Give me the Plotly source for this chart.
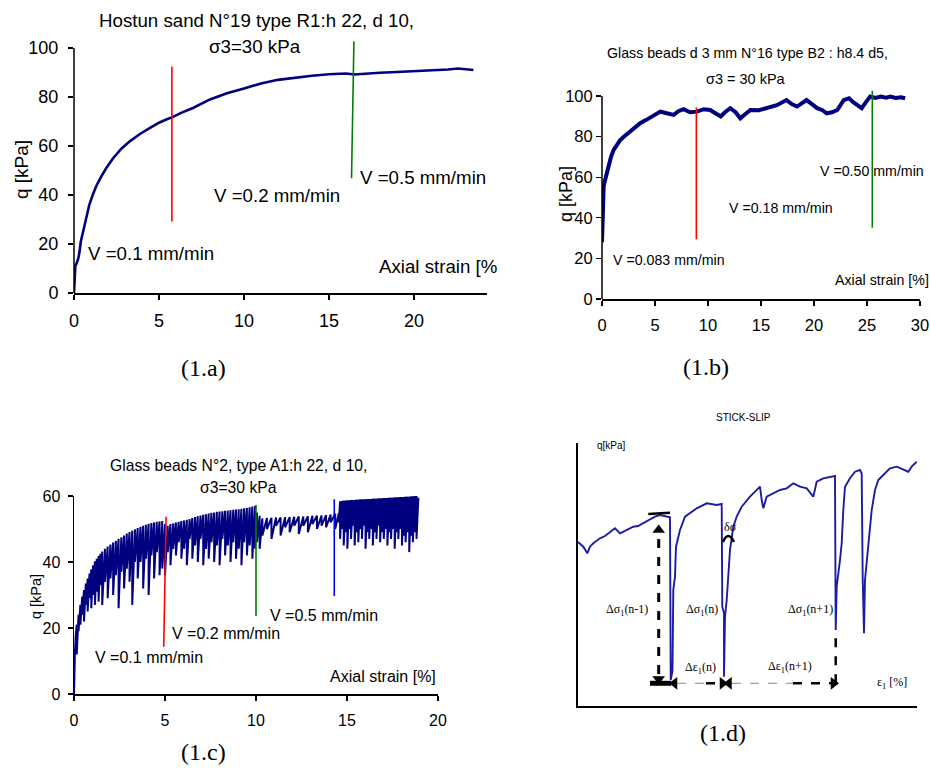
import plotly.graph_objects as go

W, H = 930, 769

NAVY = "#000080"
SANS = "Liberation Sans, Arial, sans-serif"
SERIF = "Liberation Serif, Times New Roman, serif"

# ---------------- (1.a) Hostun sand N°19 ----------------
strain_a = [0, 0.03, 0.08, 0.15, 0.25, 0.33, 0.4, 0.5, 0.6, 0.75, 0.9, 1.1, 1.3, 1.6, 1.9,
            2.3, 2.8, 3.3, 3.9, 4.5, 5.0, 5.5, 5.8, 6.3, 7.0, 8.0, 9.0, 10.0, 11.0, 12.0,
            13.0, 14.0, 15.0, 16.0, 16.5, 17.0, 18.0, 19.0, 20.0, 21.0, 22.0, 22.6, 23.0, 23.5]
q_a = [0, 8, 11, 12, 14, 17, 21, 24, 27, 32, 36, 40, 43.5, 47.5, 51,
       55, 59, 62, 65, 67.5, 69.5, 71, 71.8, 73.5, 75.5, 79, 81.5, 83.5, 85.5, 87,
       88, 88.7, 89.3, 89.6, 89.2, 89.5, 89.9, 90.2, 90.5, 90.8, 91.2, 91.6, 91.2, 91.0]
# speed changes: strain at bottom / top of the marker and its q extent
a_change_x = [(5.76, 5.76), (16.33, 16.47)]
a_change_q = [(29.2, 92.3), (46.8, 102.8)]
a_change_col = ["#ff0000", "#008000"]

# ---------------- (1.b) Glass beads d 3 mm N°16 ----------------
strain_b = [0, 0.03, 0.06, 0.1, 0.16, 0.3, 0.45, 0.63, 0.85, 1.1, 1.4, 1.73, 2.2, 2.67, 3.1,
            3.6, 4.1, 4.56, 5.0, 5.5, 6.1, 6.76, 7.2, 7.7, 8.3, 8.96, 9.6, 10.2, 10.7, 11.2,
            11.6, 12.1, 12.6, 13.05, 13.5, 14.0, 14.8, 15.6, 16.5, 17.4, 17.9, 18.4, 18.9, 19.3,
            19.8, 20.3, 20.8, 21.2, 21.7, 22.2, 22.8, 23.3, 23.7, 24.1, 24.5, 24.9, 25.3, 25.8,
            26.3, 26.8, 27.2, 27.7, 28.2, 28.6]
q_b = [28, 36, 41, 48, 55.6, 58.8, 62, 67, 70, 73.5, 76, 78.4, 80.5, 82.5, 84,
       86.6, 88, 89.5, 91, 92.3, 91.5, 90.7, 92.5, 93.5, 92, 92.3, 93.5, 93.1, 91.5, 89.9,
       92, 94, 92, 89, 91, 93.1, 93, 94, 95.5, 98, 96, 94.8, 96.5, 98,
       96, 94, 93, 91.5, 92, 93.1, 98, 98.9, 97, 95.5, 94, 97, 99.7, 99,
       99.7, 99.2, 99.7, 99, 99.4, 98.9]
b_change_x = [(8.9, 8.9), (25.5, 25.5)]
b_change_q = [(29.4, 94.4), (35.1, 102.6)]
b_change_col = ["#ff0000", "#008000"]

# ---------------- (1.c) Glass beads N°2 (stick-slip) ----------------
c_start_x = [0, 0.02, 0.05, 0.1]
c_start_q = [0, 8, 12.5, 18]
# each slip event: strain, q just before the slip, q at the end of the slip
c_slip_x = [0.15, 0.25, 0.35, 0.45, 0.55, 0.65, 0.75, 0.85, 0.95, 1.05, 1.15, 1.25, 1.35, 1.45,
            1.55, 1.7, 1.85, 2.0, 2.15, 2.3, 2.45, 2.6, 2.75, 2.9, 3.05, 3.2, 3.35, 3.5, 3.65,
            3.8, 3.95, 4.1, 4.25, 4.4, 4.55, 4.7, 4.85, 5.0, 5.15, 5.3, 5.45, 5.6, 5.75, 5.9,
            6.05, 6.2, 6.35, 6.5, 6.65, 6.8, 6.95, 7.1, 7.25, 7.4, 7.55, 7.7, 7.85, 8.0, 8.15,
            8.3, 8.45, 8.6, 8.75, 8.9, 9.05, 9.2, 9.35, 9.5, 9.65, 9.8, 9.95, 10.05, 10.2,
            10.35, 10.6, 10.85, 11.1, 11.35, 11.6, 11.85, 12.1, 12.35, 12.6, 12.85, 13.1, 13.35,
            13.6, 13.85, 14.1, 14.35, 14.55, 14.62, 14.72, 14.82, 14.92, 15.02, 15.12, 15.22,
            15.32, 15.42, 15.52, 15.62, 15.72, 15.82, 15.92, 16.02, 16.12, 16.22, 16.32, 16.42,
            16.52, 16.62, 16.72, 16.82, 16.92, 17.02, 17.12, 17.22, 17.32, 17.42, 17.52, 17.62,
            17.72, 17.82, 17.92, 18.02, 18.12, 18.22, 18.32, 18.42, 18.52, 18.62, 18.72, 18.82,
            18.92]
c_slip_top = [21, 24, 27, 29.5, 31.5, 33.5, 35, 36.5, 37.8, 39, 40.2, 41, 41.8, 42.5,
              43.2, 44, 44.7, 45.3, 45.9, 46.4, 47, 47.5, 48, 48.6, 49.1, 49.5, 49.9, 50.3, 50.7,
              51, 51.3, 51.6, 51.8, 52, 52.2, 52.3, 52.4, 51.5, 51, 51.5, 51.7, 52, 52.2, 52.4,
              52.6, 52.8, 53, 53.3, 53.6, 53.9, 54.1, 54.3, 54.5, 54.7, 54.9, 55, 55.2, 55.3, 55.4,
              55.5, 55.6, 55.7, 55.8, 55.9, 56, 56.1, 56.3, 56.4, 56.6, 56.8, 57, 55, 54,
              53.2, 53.3, 53.4, 53.5, 53.5, 53.6, 53.6, 53.7, 53.8, 53.8, 53.9, 54, 54,
              54.1, 54.2, 54.4, 54.6, 54.8, 58.4, 58.5, 58.6, 58.6, 58.7, 58.7, 58.8,
              58.8, 58.8, 58.9, 58.9, 59, 59, 59, 59, 59.1, 59.1, 59.1, 59.2,
              59.2, 59.2, 59.3, 59.3, 59.3, 59.4, 59.4, 59.4, 59.5, 59.5, 59.5, 59.6,
              59.6, 59.6, 59.7, 59.7, 59.7, 59.8, 59.8, 59.8, 59.9, 59.9, 60, 60,
              59.5]
c_slip_low = [12, 19, 21, 24, 22, 27, 25, 29, 26, 30, 27, 31, 28, 33,
              27, 34, 29, 35, 30, 36, 26, 37, 32, 38, 34, 27, 40, 35, 40,
              32, 41, 30, 42, 35, 43, 36, 38, 36, 43, 39, 44, 42, 46, 41,
              44, 39, 47, 41, 45, 40, 47, 39, 44, 41, 46, 40, 45, 39, 47,
              42, 45, 40, 46, 41, 44, 39, 46, 42, 45, 41, 44, 46, 44,
              48, 50, 47, 51, 48, 50.5, 49, 51, 48.5, 51, 49, 51.5, 50,
              51, 50.5, 52, 50, 52, 47, 50, 45, 49, 44, 50, 47,
              51, 45, 49, 46, 50, 47, 51, 44, 49, 47, 50, 45,
              49, 47, 51, 46, 49, 47, 50, 45, 49, 47, 50, 44,
              49, 47, 50, 45, 48, 46, 49, 43, 48, 46, 49, 47,
              58.5]
c_change_x = [(4.93, 5.06), (10.0, 10.0), (14.3, 14.3)]
c_change_q = [(14.3, 53.7), (23.6, 57.3), (29.7, 59.0)]
c_change_col = ["#ff0000", "#008000", "#0000ff"]

# ---------------- (1.d) stick-slip sketch (arbitrary units) ----------------
d_x = [0, 1.3, 5.3, 9.3, 12, 15.3, 22, 27, 32, 37, 42, 48.7, 55.3, 60, 65.3, 72, 77, 82, 88.7,
       92, 92.7, 94.5, 95.3, 97, 98, 102, 107, 112, 118.7, 128.7, 138.7, 143.7, 144.3, 146,
       146, 147, 148.7, 152, 153.7, 155.3, 158.7, 163.7, 172, 178.7, 182, 183.7, 185.3, 188.7,
       195.3, 202, 208.7, 215.3, 222, 228.7, 235.3, 238.7, 245.3, 252, 257, 257.7, 258.7, 262,
       263.7, 265.3, 267, 272, 277, 282, 283.7, 284.7, 286, 287, 290.3, 293.7, 297, 300.3,
       305.3, 312, 318.7, 325.3, 330.3, 333.7, 338.7]
d_q = [164, 162.7, 159.3, 152.7, 159.3, 162.7, 167.7, 170, 174.3, 177.7, 172.7, 176, 179.3, 180,
       182.7, 186, 189.3, 191, 189.3, 188.7, 26, 35, 116, 129.3, 159.3, 176, 189.3, 192.7, 197.7,
       202.7, 201, 202, 99.3, 92.7, 29.3, 89.3, 106, 156, 166, 179.3, 189.3, 199.3, 209.3, 216,
       219.3, 206, 197.7, 209.3, 212.7, 216, 217.7, 222.7, 219.3, 217.7, 209.3, 224.3, 227.7,
       229.3, 230, 76, 119.3, 146, 162.7, 196, 219.3, 227.7, 234.3, 236, 232.7, 127.7, 72.7, 126,
       159.3, 196, 216, 226, 231, 237.7, 239.3, 236, 234.3, 239.3, 244.3]
# arrow heads of the sketch
d_head_x = [80.7, 80.7, 96.5, 144.5, 151, 255.5]
d_head_y = [176, 27, 22.7, 22.7, 22.7, 22.7]
d_head_sym = ["triangle-up", "triangle-down", "triangle-left", "triangle-right",
              "triangle-left", "triangle-right"]


def fx(p):
    return p / W


def fy(p):
    return 1 - p / H


fig = go.Figure()

# curves
fig.add_trace(go.Scatter(x=strain_a, y=q_a, mode="lines", line=dict(color=NAVY, width=2.6),
                         xaxis="x", yaxis="y"))
fig.add_trace(go.Scatter(x=strain_b, y=q_b, mode="lines", line=dict(color=NAVY, width=4),
                         xaxis="x2", yaxis="y2"))

c_x = list(c_start_x)
c_q = list(c_start_q)
for x, top, low in zip(c_slip_x, c_slip_top, c_slip_low):
    c_x += [x, x]
    c_q += [top, low]
fig.add_trace(go.Scatter(x=c_x, y=c_q, mode="lines", line=dict(color=NAVY, width=2),
                         xaxis="x3", yaxis="y3"))

fig.add_trace(go.Scatter(x=d_x, y=d_q, mode="lines", line=dict(color="#1c1ca0", width=1.9),
                         xaxis="x4", yaxis="y4"))
fig.add_trace(go.Scatter(x=d_head_x, y=d_head_y, mode="markers", cliponaxis=False,
                         marker=dict(symbol=d_head_sym, size=11, color="black"),
                         xaxis="x4", yaxis="y4"))

# speed change markers
for xs, qs, cols, ax in [(a_change_x, a_change_q, a_change_col, ("x", "y")),
                         (b_change_x, b_change_q, b_change_col, ("x2", "y2")),
                         (c_change_x, c_change_q, c_change_col, ("x3", "y3"))]:
    for xx, qq, col in zip(xs, qs, cols):
        fig.add_trace(go.Scatter(x=list(xx), y=list(qq), mode="lines",
                                 line=dict(color=col, width=1.6),
                                 xaxis=ax[0], yaxis=ax[1]))

axis_common = dict(showgrid=False, zeroline=False, ticks="outside", ticklen=5, tickwidth=1.3,
                   tickcolor="black", linecolor="black", linewidth=1.5, color="black",
                   fixedrange=True, automargin=False)
sketch_axis = dict(showgrid=False, zeroline=False, showticklabels=False, ticks="",
                   showline=True, linecolor="black", linewidth=2, fixedrange=True,
                   automargin=False)

fig.update_layout(
    template="none",
    width=W, height=H, autosize=False,
    margin=dict(l=0, r=0, t=0, b=0, pad=0, autoexpand=False),
    paper_bgcolor="white", plot_bgcolor="white",
    showlegend=False,
    xaxis=dict(axis_common, domain=[fx(74), fx(487)], range=[0, 24.3], anchor="y",
               tickvals=[0, 5, 10, 15, 20], showline=True,
               tickfont=dict(family=SANS, size=18), ticklabelstandoff=6),
    yaxis=dict(axis_common, domain=[fy(293), fy(38.2)], range=[0, 104], anchor="x",
               tickvals=[0, 20, 40, 60, 80, 100], showline=False,
               tickfont=dict(family=SANS, size=18), ticklabelstandoff=6),
    xaxis2=dict(axis_common, domain=[fx(602), fx(920)], range=[0, 30], anchor="y2",
                tickvals=[0, 5, 10, 15, 20, 25, 30], showline=True,
                tickfont=dict(family=SANS, size=16.5), ticklabelstandoff=6),
    yaxis2=dict(axis_common, domain=[fy(299), fy(87.9)], range=[0, 104], anchor="x2",
                tickvals=[0, 20, 40, 60, 80, 100], showline=False,
                tickfont=dict(family=SANS, size=16.5), ticklabelstandoff=0),
    xaxis3=dict(axis_common, domain=[fx(74), fx(438)], range=[0, 20], anchor="y3",
                tickvals=[0, 5, 10, 15, 20], showline=True,
                tickfont=dict(family=SANS, size=16), ticklabelstandoff=6),
    yaxis3=dict(axis_common, domain=[fy(694), fy(496)], range=[0, 60], anchor="x3",
                tickvals=[0, 20, 40, 60], showline=True,
                tickfont=dict(family=SANS, size=16), ticklabelstandoff=4),
    xaxis4=dict(sketch_axis, domain=[fx(578), fx(917)], range=[0, 339], anchor="y4"),
    yaxis4=dict(sketch_axis, domain=[fy(706), fy(443)], range=[0, 263], anchor="x4"),
)

shapes = [
    # y axis lines of (1.a) and (1.b) stop at the 100 tick
    dict(type="line", xref="paper", yref="paper", x0=fx(74), x1=fx(74), y0=fy(293), y1=fy(48),
         line=dict(color="black", width=1.5)),
    dict(type="line", xref="paper", yref="paper", x0=fx(602), x1=fx(602), y0=fy(299), y1=fy(96),
         line=dict(color="black", width=1.5)),
    # sketch (1.d) construction lines
    dict(type="line", xref="x4", yref="y4", x0=70.3, y0=192, x1=92, y1=193.3,
         line=dict(color="black", width=2.5)),
    dict(type="line", xref="x4", yref="y4", x0=72, y0=22.7, x1=93, y1=22.7,
         line=dict(color="black", width=5)),
    dict(type="line", xref="x4", yref="y4", x0=80.7, y0=32, x1=80.7, y1=172,
         line=dict(color="black", width=3, dash="dash")),
    dict(type="line", xref="x4", yref="y4", x0=99, y0=22.7, x1=128, y1=22.7,
         line=dict(color="#888888", width=1, dash="dash")),
    dict(type="line", xref="x4", yref="y4", x0=128, y0=22.7, x1=142, y1=22.7,
         line=dict(color="black", width=2.5, dash="dash")),
    dict(type="line", xref="x4", yref="y4", x0=154, y0=22.7, x1=215, y1=22.7,
         line=dict(color="#888888", width=1, dash="dash")),
    dict(type="line", xref="x4", yref="y4", x0=215, y0=22.7, x1=253, y1=22.7,
         line=dict(color="black", width=2.5, dash="dash")),
    dict(type="line", xref="x4", yref="y4", x0=257.7, y0=22.7, x1=257.7, y1=74,
         line=dict(color="black", width=2.5, dash="dash")),
    dict(type="path", xref="x4", yref="y4", path="M 145,164 Q 150,176 156,164",
         line=dict(color="black", width=2.5)),
]

ann = []


def label(text, x, y, xref, yref, size, family=SANS, xanchor="left", angle=0):
    ann.append(dict(text=text, x=x, y=y, xref=xref, yref=yref, showarrow=False,
                    xanchor=xanchor, yanchor="middle", textangle=angle,
                    font=dict(family=family, size=size, color="black")))


# titles
label("Hostun sand N°19 type R1:h 22, d 10,", fx(256), fy(20), "paper", "paper", 18.7, xanchor="center")
label("σ3=30 kPa", fx(255), fy(47), "paper", "paper", 18.7, xanchor="center")
label("Glass beads d 3 mm N°16 type B2 : h8.4 d5,", fx(747), fy(53), "paper", "paper", 14.2, xanchor="center")
label("σ3 = 30 kPa", fx(746), fy(79), "paper", "paper", 14.5, xanchor="center")
label("Glass beads N°2, type A1:h 22, d 10,", fx(238), fy(465), "paper", "paper", 15.7, xanchor="center")
label("σ3=30 kPa", fx(238), fy(487), "paper", "paper", 15.7, xanchor="center")
label("STICK-SLIP", fx(743), fy(417), "paper", "paper", 10, xanchor="center")

# y axis titles
label("q [kPa]", fx(21), fy(170), "paper", "paper", 19, xanchor="center", angle=-90)
label("q [kPa]", fx(566), fy(194), "paper", "paper", 18, xanchor="center", angle=-90)
label("q [kPa]", fx(36), fy(597), "paper", "paper", 14.5, xanchor="center", angle=-90)

# in-plot texts
label("V =0.1 mm/min", 0.7, 16.3, "x", "y", 18.7)
label("V =0.2 mm/min", 8.1, 40, "x", "y", 18.7)
label("V =0.5 mm/min", 16.7, 47.3, "x", "y", 18.7)
label("Axial strain [%", 17.8, 11, "x", "y", 18.7)

label("V =0.083 mm/min", 0.85, 19.2, "x2", "y2", 14.2)
label("V =0.18 mm/min", 11.8, 44.8, "x2", "y2", 14.2)
label("V =0.50 mm/min", 20.4, 63, "x2", "y2", 14.2)
label("Axial strain [%]", 21.8, 9.4, "x2", "y2", 14.2)

label("V =0.1 mm/min", 1.04, 11, "x3", "y3", 16)
label("V =0.2 mm/min", 5.27, 18.4, "x3", "y3", 16)
label("V =0.5 mm/min", 10.66, 23.9, "x3", "y3", 16)
label("Axial strain [%]", 13.96, 5.2, "x3", "y3", 16)

# sketch labels
label("q[kPa]", 33.7, 261, "x4", "y4", 10, xanchor="center")
label("Δσ<sub>1</sub>(n-1)", 48.7, 96, "x4", "y4", 12, SERIF, "center")
label("Δσ<sub>1</sub>(n)", 123.7, 96, "x4", "y4", 12, SERIF, "center")
label("Δσ<sub>1</sub>(n+1)", 232, 96, "x4", "y4", 12, SERIF, "center")
label("Δε<sub>1</sub>(n)", 122, 37.7, "x4", "y4", 12, SERIF, "center")
label("Δε<sub>1</sub>(n+1)", 212, 39.3, "x4", "y4", 12, SERIF, "center")
label("ε<sub>1</sub> [%]", 313.7, 22.7, "x4", "y4", 12, SERIF, "center")
label("δσ", 152, 179.3, "x4", "y4", 12, SERIF, "center")

# captions
for cap, cx, cy in [("(1.a)", 203, 368), ("(1.b)", 706, 367), ("(1.c)", 203, 752), ("(1.d)", 723, 733)]:
    label(cap, fx(cx), fy(cy), "paper", "paper", 24, SERIF, "center")

fig.update_layout(shapes=shapes, annotations=ann)

# remove the default page margin so the figure fills the window exactly
fig.write_html("out.html", config={"displayModeBar": False, "staticPlot": True},
               post_script="document.body.style.margin='0';"
                           "document.documentElement.style.margin='0';"
                           "document.body.style.overflow='hidden';")
